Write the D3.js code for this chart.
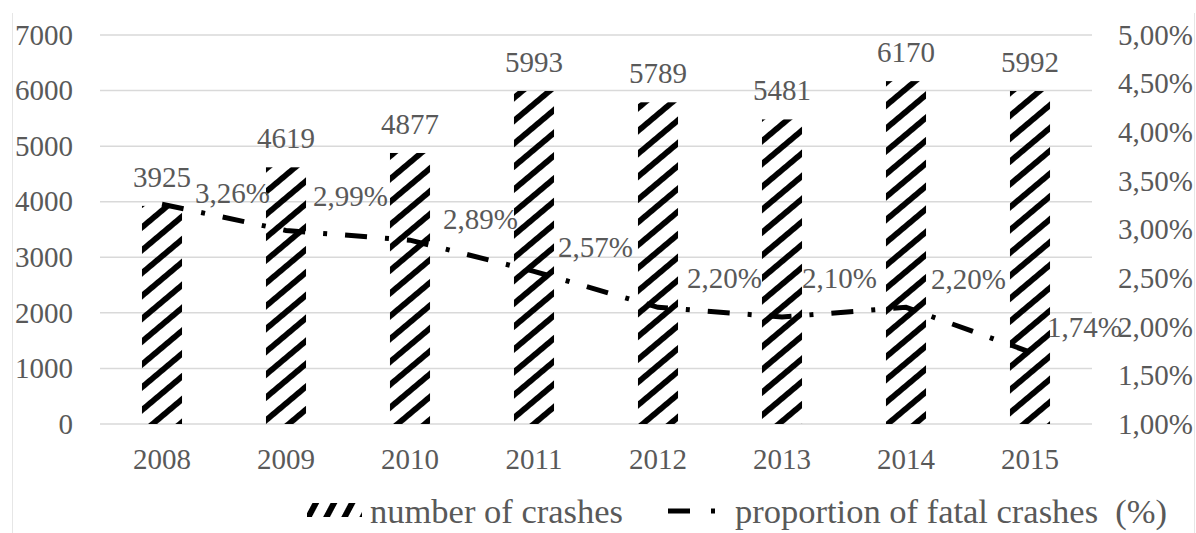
<!DOCTYPE html>
<html>
<head>
<meta charset="utf-8">
<script src="https://cdn.jsdelivr.net/npm/d3@7/dist/d3.min.js"></script>
<style>
  html, body { margin: 0; padding: 0; background: #fff; }
  svg { display: block; }
</style>
</head>
<body>
<svg id="chart" width="1196" height="533"></svg>
<script>
// Crash statistics, 2008–2015
const years = ["2008", "2009", "2010", "2011", "2012", "2013", "2014", "2015"];
const crashes = [3925, 4619, 4877, 5993, 5789, 5481, 6170, 5992];
const fatalShare = [3.26, 2.99, 2.89, 2.57, 2.20, 2.10, 2.20, 1.74]; // percent
const leftTicks = [0, 1000, 2000, 3000, 4000, 5000, 6000, 7000];
const rightTicks = [1.0, 1.5, 2.0, 2.5, 3.0, 3.5, 4.0, 4.5, 5.0];

const SERIF = "'Liberation Serif'";
const GREY = "#595959";

const svg = d3.select("#chart");
const W = 1196, H = 533;
const plot = { left: 100, right: 1092, top: 35, bottom: 424 };

const fmtPct = v => d3.format(".2f")(v).replace(".", ",") + "%";
const serifText = (sel, size) => sel.style("font-family", SERIF).style("font-size", size + "px").attr("fill", GREY);

// frame of the chart area
svg.append("line").attr("x1", 12.5).attr("x2", 12.5).attr("y1", 13).attr("y2", H)
  .attr("stroke", "#e6e6e6").attr("stroke-width", 1);
svg.append("line").attr("x1", 1194.5).attr("x2", 1194.5).attr("y1", 13).attr("y2", H)
  .attr("stroke", "#e6e6e6").attr("stroke-width", 1);

// hatch patterns
const defs = svg.append("defs");
defs.append("pattern")
  .attr("id", "hatch").attr("patternUnits", "userSpaceOnUse")
  .attr("width", 200).attr("height", 17.5)
  .attr("patternTransform", "rotate(-40)")
  .append("rect").attr("x", 0).attr("y", 0).attr("width", 200).attr("height", 5.8)
  .attr("fill", "#000");
defs.append("pattern")
  .attr("id", "hatchKey").attr("patternUnits", "userSpaceOnUse")
  .attr("width", 200).attr("height", 16)
  .attr("patternTransform", "translate(305,517) rotate(-62)")
  .append("rect").attr("x", 0).attr("y", 0).attr("width", 200).attr("height", 6)
  .attr("fill", "#000");

// scales
const x = d3.scaleBand().domain(years)
  .range([plot.left, plot.right]).paddingInner(0.677).paddingOuter(0.677 / 2);
const yL = d3.scaleLinear().domain([0, 7000]).range([plot.bottom, plot.top]);
const yR = d3.scaleLinear().domain([1, 5]).range([plot.bottom, plot.top]);

// gridlines
svg.append("g").selectAll("line").data(leftTicks).join("line")
  .attr("x1", plot.left).attr("x2", plot.right)
  .attr("y1", d => yL(d)).attr("y2", d => yL(d))
  .attr("stroke", "#d9d9d9").attr("stroke-width", 1.5);

function styleAxis(g) {
  g.select(".domain").remove();
  g.selectAll("text").call(serifText, 29);
}

// left axis
svg.append("g").attr("transform", `translate(${plot.left},0)`)
  .call(d3.axisLeft(yL).tickValues(leftTicks).tickSize(0).tickPadding(27).tickFormat(d3.format("d")))
  .call(styleAxis);

// right axis
svg.append("g").attr("transform", `translate(${plot.right},0)`)
  .call(d3.axisRight(yR).tickValues(rightTicks).tickSize(0).tickPadding(26).tickFormat(fmtPct))
  .call(styleAxis);

// bottom axis
svg.append("g").attr("transform", `translate(0,${plot.bottom})`)
  .call(d3.axisBottom(x).tickSize(0).tickPadding(24))
  .call(styleAxis);

// bars
svg.append("g").selectAll("rect").data(crashes).join("rect")
  .attr("x", (d, i) => x(years[i]))
  .attr("width", x.bandwidth())
  .attr("y", d => yL(d))
  .attr("height", d => yL(0) - yL(d))
  .attr("fill", "url(#hatch)");

// bar value labels
svg.append("g").selectAll("text").data(crashes).join("text")
  .attr("x", (d, i) => x(years[i]) + x.bandwidth() / 2)
  .attr("y", d => yL(d) - 19)
  .attr("text-anchor", "middle")
  .call(serifText, 29)
  .text(d => d);

// share line
const cx = i => x(years[i]) + x.bandwidth() / 2;
const line = d3.line().x((d, i) => cx(i)).y(d => yR(d));
svg.append("path").datum(fatalShare)
  .attr("d", line)
  .attr("fill", "none")
  .attr("stroke", "#000")
  .attr("stroke-width", 5)
  .attr("stroke-dasharray", "22 18 4 18");

// share labels, nudged off the line
const labelNudge = [[33, -11], [27, -34], [33, -21], [24, -24], [29, -29], [20, -39], [25, -28], [17, -25]];
svg.append("g").selectAll("text").data(fatalShare).join("text")
  .attr("x", (d, i) => cx(i) + labelNudge[i][0])
  .attr("y", (d, i) => yR(d) + labelNudge[i][1])
  .attr("dominant-baseline", "central")
  .call(serifText, 29)
  .text(d => fmtPct(d));

// legend
const lg = svg.append("g");
lg.append("rect").attr("x", 307).attr("y", 503).attr("width", 55).attr("height", 14)
  .attr("fill", "url(#hatchKey)");
lg.append("text").attr("x", 370).attr("y", 523).call(serifText, 34.5).text("number of crashes");
lg.append("line").attr("x1", 668).attr("x2", 716).attr("y1", 511).attr("y2", 511)
  .attr("stroke", "#000").attr("stroke-width", 5)
  .attr("stroke-dasharray", "22 21 4 100");
lg.append("text").attr("x", 735).attr("y", 523)
  .call(serifText, 34.5)
  .style("white-space", "pre")
  .text("proportion of fatal crashes  (%)");
</script>
</body>
</html>
